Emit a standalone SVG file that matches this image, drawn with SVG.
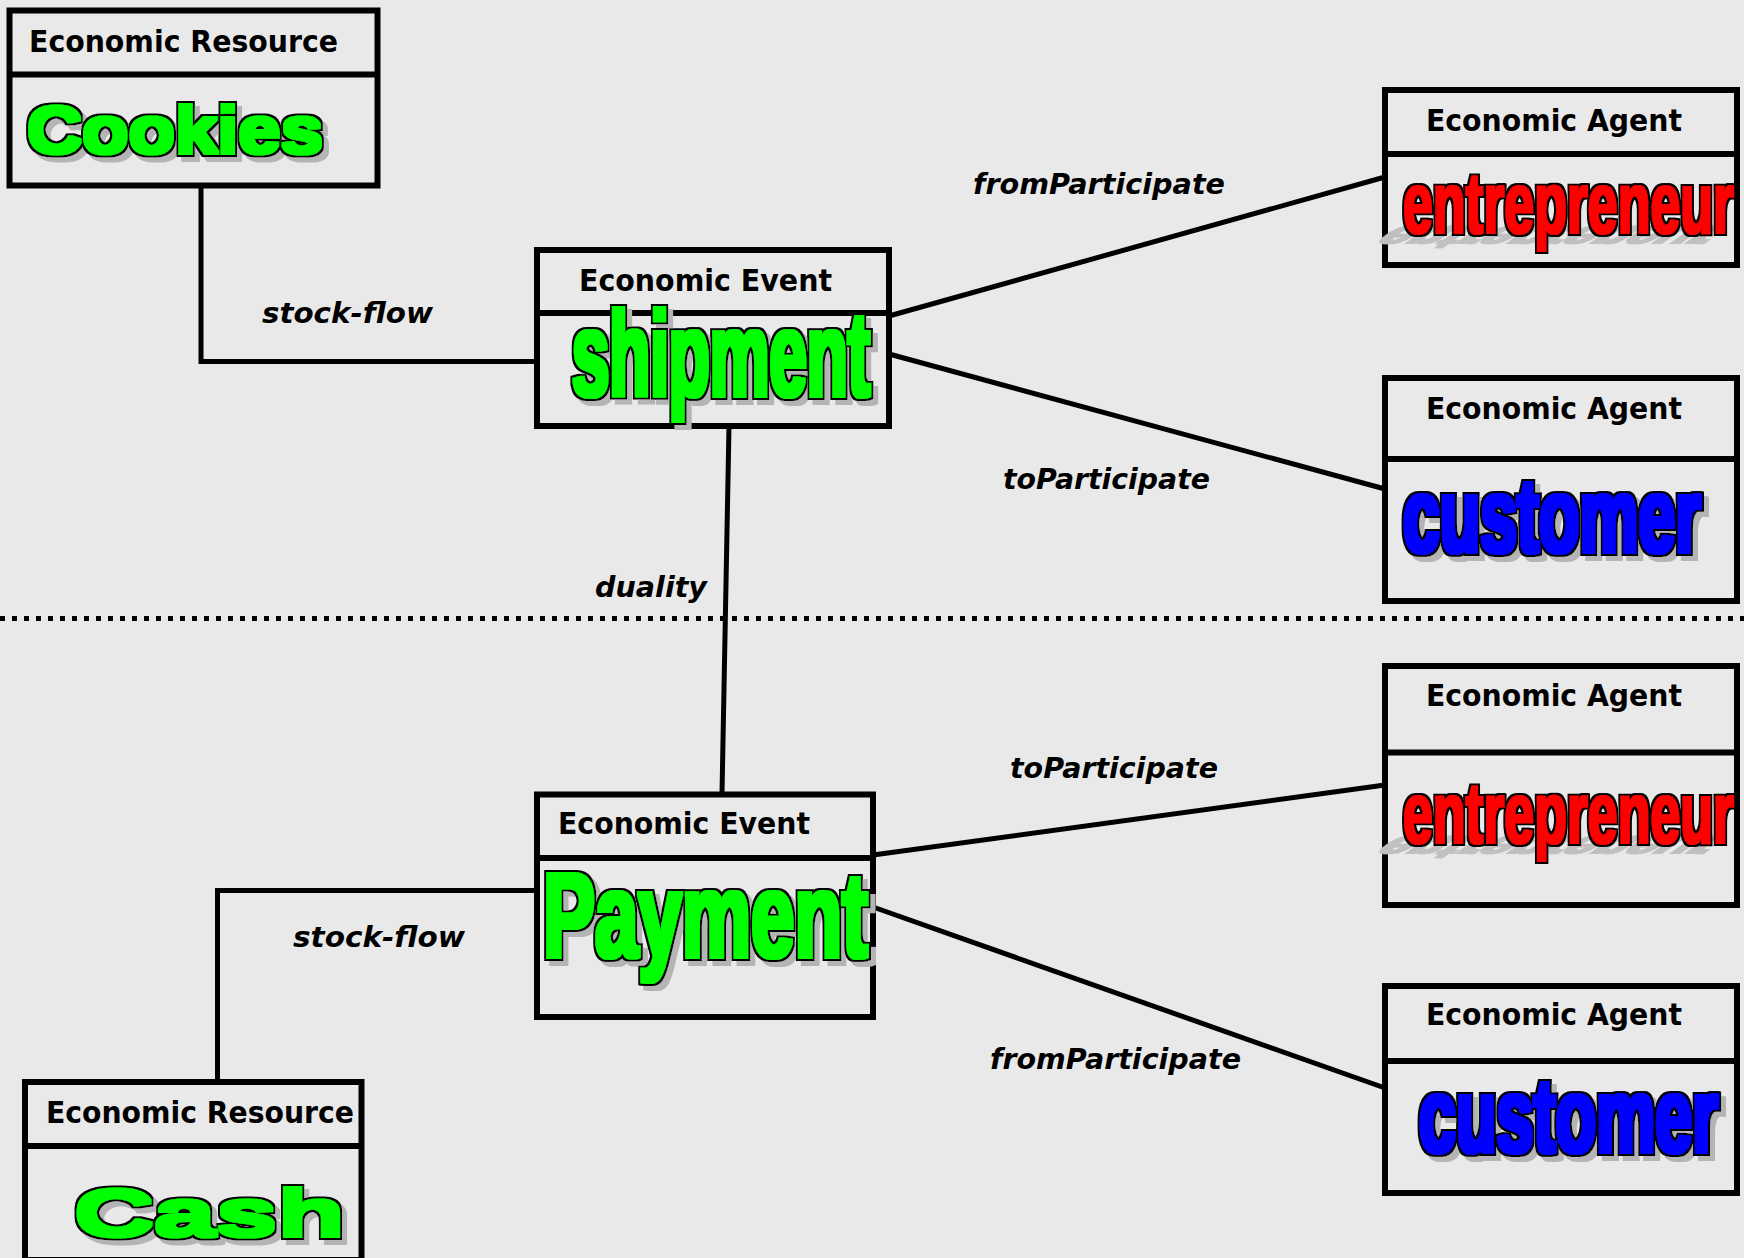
<svg xmlns="http://www.w3.org/2000/svg" width="1744" height="1258" viewBox="0 0 1744 1258">
<style>
.bg{fill:#e9e9e9}
.box{fill:#e9e9e9;stroke:#000;stroke-width:6}
.dv{stroke:#000;stroke-width:6}
.hdr{font-family:"DejaVu Sans",Verdana,sans-serif;font-weight:bold;font-size:31px;fill:#000}
.lbl{font-family:"DejaVu Sans",Verdana,sans-serif;font-weight:bold;font-style:italic;font-size:29px;fill:#000}
.big{font-family:"Liberation Sans",Arial,sans-serif;font-weight:bold}
.g{fill:#00ff00}.r{fill:#ff0000}.b{fill:#0000ff}
.conn{stroke:#000;stroke-width:5;fill:none}
.dots{stroke:#000;stroke-width:5;stroke-dasharray:5 7;fill:none}
</style>
<defs>
<filter id="heavy" x="-5%" y="-25%" width="115%" height="160%">
<feMorphology in="SourceGraphic" operator="dilate" radius="1.5" result="fat"/>
<feMorphology in="SourceAlpha" operator="dilate" radius="3.5" result="outl"/>
<feFlood flood-color="#000000"/>
<feComposite in2="outl" operator="in" result="black"/>
<feOffset in="outl" dx="5" dy="5" result="so"/>
<feFlood flood-color="#b4b4b4"/>
<feComposite in2="so" operator="in" result="shadow"/>
<feMerge><feMergeNode in="shadow"/><feMergeNode in="black"/><feMergeNode in="fat"/></feMerge>
</filter>
<filter id="heavyNoShadow" x="-5%" y="-25%" width="115%" height="160%">
<feMorphology in="SourceGraphic" operator="dilate" radius="1" result="fat"/>
<feMorphology in="SourceAlpha" operator="dilate" radius="3" result="outl"/>
<feFlood flood-color="#000000"/>
<feComposite in2="outl" operator="in" result="black"/>
<feMerge><feMergeNode in="black"/><feMergeNode in="fat"/></feMerge>
</filter>
<filter id="soft" x="-10%" y="-40%" width="125%" height="180%">
<feMorphology in="SourceGraphic" operator="dilate" radius="2"/>
</filter>
<text id="entword" class="big" font-size="88" textLength="330" lengthAdjust="spacingAndGlyphs">entrepreneur</text>
</defs>
<rect class="bg" x="0" y="0" width="1744" height="1258"/>
<line class="dots" x1="0" y1="618.5" x2="1744" y2="618.5"/>
<g id="connectors">
<path class="conn" d="M201,185 V361.5 H537"/>
<path class="conn" d="M217.5,1082 V890.5 H537"/>
<line class="conn" x1="729" y1="426" x2="722" y2="794"/>
<line class="conn" x1="889" y1="316" x2="1385" y2="177"/>
<line class="conn" x1="889" y1="354" x2="1385" y2="489"/>
<line class="conn" x1="873" y1="855" x2="1385" y2="785"/>
<line class="conn" x1="873" y1="907" x2="1385" y2="1088"/>
<text class="lbl" x="262" y="323" textLength="171" lengthAdjust="spacingAndGlyphs">stock-flow</text>
<text class="lbl" x="293" y="947" textLength="172" lengthAdjust="spacingAndGlyphs">stock-flow</text>
<text class="lbl" x="973" y="194" textLength="252" lengthAdjust="spacingAndGlyphs">fromParticipate</text>
<text class="lbl" x="1003" y="489" textLength="207" lengthAdjust="spacingAndGlyphs">toParticipate</text>
<text class="lbl" x="595" y="597" textLength="112" lengthAdjust="spacingAndGlyphs">duality</text>
<text class="lbl" x="1010" y="778" textLength="208" lengthAdjust="spacingAndGlyphs">toParticipate</text>
<text class="lbl" x="990" y="1069" textLength="251" lengthAdjust="spacingAndGlyphs">fromParticipate</text>
</g>
<g id="node-cookies">
<rect class="box" x="9.5" y="10.5" width="368" height="175"/>
<line class="dv" x1="9.5" y1="74.5" x2="377.5" y2="74.5"/>
<text class="hdr" x="29" y="52" textLength="309" lengthAdjust="spacingAndGlyphs">Economic Resource</text>
<text class="big g" filter="url(#heavy)" x="27" y="153" font-size="66" textLength="296" lengthAdjust="spacingAndGlyphs">Cookies</text>
</g>
<g id="node-shipment">
<rect class="box" x="537" y="250" width="352" height="176"/>
<line class="dv" x1="537" y1="313" x2="889" y2="313"/>
<text class="hdr" x="579" y="291" textLength="253" lengthAdjust="spacingAndGlyphs">Economic Event</text>
<text class="big g" filter="url(#heavy)" x="572" y="396" font-size="120" textLength="298" lengthAdjust="spacingAndGlyphs">shipment</text>
</g>
<g id="node-entrepreneur-1">
<rect class="box" x="1385" y="90" width="352" height="175"/>
<line class="dv" x1="1385" y1="154" x2="1737" y2="154"/>
<text class="hdr" x="1426" y="131" textLength="256" lengthAdjust="spacingAndGlyphs">Economic Agent</text>
<use href="#entword" fill="#c0c0c0" filter="url(#soft)" transform="translate(1398,226) scale(1,-0.38) skewX(28)"/>
<text class="big r" filter="url(#heavyNoShadow)" x="1403" y="233" font-size="88" textLength="331" lengthAdjust="spacingAndGlyphs">entrepreneur</text>
</g>
<g id="node-customer-1">
<rect class="box" x="1385" y="378" width="352" height="223"/>
<line class="dv" x1="1385" y1="459" x2="1737" y2="459"/>
<text class="hdr" x="1426" y="419" textLength="256" lengthAdjust="spacingAndGlyphs">Economic Agent</text>
<text class="big b" filter="url(#heavy)" x="1403" y="552" font-size="105" textLength="298" lengthAdjust="spacingAndGlyphs">customer</text>
</g>
<g id="node-entrepreneur-2">
<rect class="box" x="1385" y="666" width="352" height="239"/>
<line class="dv" x1="1385" y1="752.5" x2="1737" y2="752.5"/>
<text class="hdr" x="1426" y="706" textLength="256" lengthAdjust="spacingAndGlyphs">Economic Agent</text>
<use href="#entword" fill="#c0c0c0" filter="url(#soft)" transform="translate(1398,836) scale(1,-0.38) skewX(28)"/>
<text class="big r" filter="url(#heavyNoShadow)" x="1403" y="843" font-size="88" textLength="331" lengthAdjust="spacingAndGlyphs">entrepreneur</text>
</g>
<g id="node-payment">
<rect class="box" x="537" y="794.5" width="336" height="222.5"/>
<line class="dv" x1="537" y1="858" x2="873" y2="858"/>
<text class="hdr" x="558" y="834" textLength="252" lengthAdjust="spacingAndGlyphs">Economic Event</text>
<text class="big g" filter="url(#heavy)" x="543" y="957" font-size="120" textLength="325" lengthAdjust="spacingAndGlyphs">Payment</text>
</g>
<g id="node-customer-2">
<rect class="box" x="1385" y="986" width="352" height="207"/>
<line class="dv" x1="1385" y1="1061" x2="1737" y2="1061"/>
<text class="hdr" x="1426" y="1025" textLength="256" lengthAdjust="spacingAndGlyphs">Economic Agent</text>
<text class="big b" filter="url(#heavy)" x="1419" y="1152" font-size="105" textLength="299" lengthAdjust="spacingAndGlyphs">customer</text>
</g>
<g id="node-cash">
<rect class="box" x="25" y="1082" width="336.5" height="178"/>
<line class="dv" x1="25" y1="1146" x2="361.5" y2="1146"/>
<text class="hdr" x="46" y="1123" textLength="308" lengthAdjust="spacingAndGlyphs">Economic Resource</text>
<text class="big g" filter="url(#heavy)" x="74" y="1236" font-size="66" textLength="271" lengthAdjust="spacingAndGlyphs">Cash</text>
</g>
</svg>
